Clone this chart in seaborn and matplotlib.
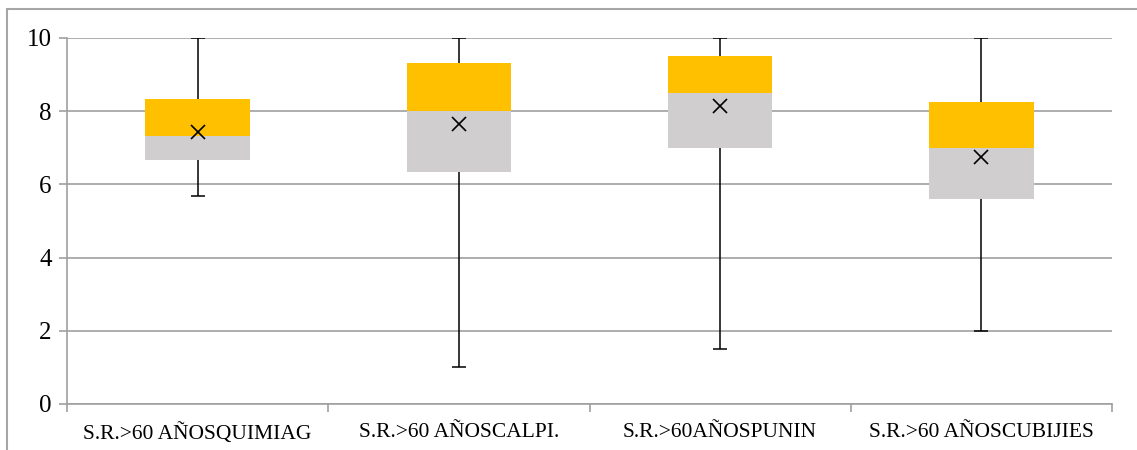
import matplotlib
matplotlib.use("Agg")
import matplotlib.pyplot as plt
import seaborn as sns
import pandas as pd
from matplotlib.lines import Line2D

categories = ["S.R.>60 AÑOSQUIMIAG", "S.R.>60 AÑOSCALPI.", "S.R.>60AÑOSPUNIN", "S.R.>60 AÑOSCUBIJIES"]
minimum = [5.67, 1.0, 1.5, 2.0]
q1 = [6.67, 6.33, 7.0, 5.6]
median = [7.33, 8.0, 8.5, 7.0]
q3 = [8.33, 9.33, 9.5, 8.25]
maximum = [10.0, 10.0, 10.0, 10.0]
mean = [7.42, 7.65, 8.15, 6.75]

sns.set_theme(style="white")
plt.rcParams["font.family"] = ["Liberation Serif", "DejaVu Serif"]

df = pd.DataFrame({"cat": categories, "q1": q1, "median": median, "q3": q3,
                   "lower": [m - a for m, a in zip(median, q1)],
                   "upper": [b - m for m, b in zip(median, q3)],
                   "mean": mean, "min": minimum, "max": maximum})

fig = plt.figure(figsize=(11.37, 4.5), dpi=100)
ax = fig.add_axes([67 / 1137, 1 - 404 / 450, (1112 - 67) / 1137, (404 - 38) / 450])

grid_c = "#A0A0A0"
ax.set_axisbelow(True)
ax.yaxis.grid(True, color=grid_c, linewidth=1.2)

# whiskers
xs = list(range(len(categories)))
ax.errorbar(xs, df["median"], yerr=[df["median"] - df["min"], df["max"] - df["median"]],
            fmt="none", ecolor="black", elinewidth=1.1, capsize=5, capthick=1.1, zorder=2)

# boxes (stacked)
sns.barplot(data=df, x="cat", y="lower", bottom=df["q1"], color="#D0CECE", width=0.4,
            saturation=1, linewidth=0, ax=ax, zorder=3)
sns.barplot(data=df, x="cat", y="upper", bottom=df["median"], color="#FFC000", width=0.4,
            saturation=1, linewidth=0, ax=ax, zorder=3)

# means
sns.pointplot(data=df, x="cat", y="mean", linestyle="none", markers="x", color="black",
              markersize=10, markeredgewidth=1.2, errorbar=None, ax=ax, zorder=5)

ax.set_ylim(0, 10)
ax.set_xlim(-0.5, len(categories) - 0.5)
ax.set_yticks([0, 2, 4, 6, 8, 10])
ax.set_xlabel("")
ax.set_ylabel("")
ax.tick_params(axis="y", labelsize=18, length=6, width=1.2, color=grid_c, direction="out",
               left=True, pad=5, labelcolor="black")
ax.set_xticks(xs)
ax.set_xticklabels(categories)
ax.tick_params(axis="x", labelsize=15.5, length=0, pad=14, labelcolor="black")
# category boundary ticks
ax.set_xticks([i - 0.5 for i in range(len(categories) + 1)], minor=True)
ax.tick_params(axis="x", which="minor", length=6, width=1.2, color=grid_c, bottom=True)

for s in ["left", "bottom"]:
    ax.spines[s].set_color(grid_c)
    ax.spines[s].set_linewidth(1.2)
ax.spines["top"].set_visible(False)
ax.spines["right"].set_visible(False)

# outer frame
fig.add_artist(Line2D([7 / 1137, 7 / 1137], [0, 1 - 9 / 450], transform=fig.transFigure,
                      color="#A6A6A6", linewidth=1.5))
fig.add_artist(Line2D([7 / 1137, 1.0], [1 - 9 / 450, 1 - 9 / 450], transform=fig.transFigure,
                      color="#A6A6A6", linewidth=1.5))

fig.savefig("out.png", dpi=100)
